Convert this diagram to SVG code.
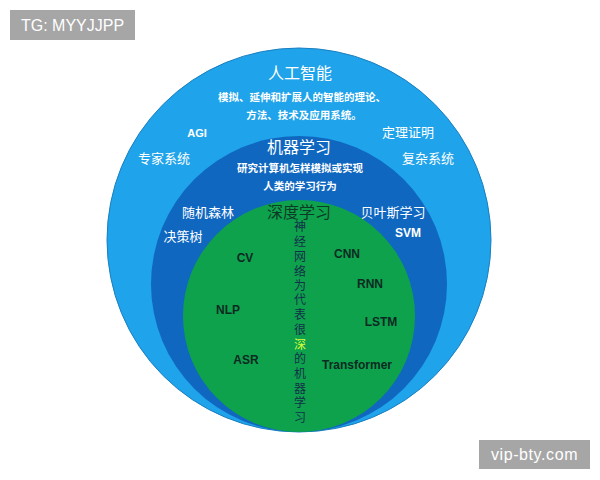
<svg xmlns="http://www.w3.org/2000/svg" width="600" height="480" viewBox="0 0 600 480">
<style>
text{font-family:"Liberation Sans","Noto Sans CJK SC",sans-serif;text-anchor:middle}
.w{fill:#ffffff}
.t{fill:#ffffff;font-size:13px}
.s{fill:#ffffff;font-size:10.5px;font-weight:bold}
.h{font-size:16px}
.g{fill:#0c2a22;font-weight:bold;font-size:12px}
.v{fill:#12304a;font-size:12px}
.wm{fill:#ffffff;font-size:16px}
</style>
<rect width="600" height="480" fill="#ffffff"/>
<g id="ai">
<circle cx="299" cy="240" r="192" fill="#1fa3ea" stroke="#1a7fc0" stroke-width="1"/>
<text class="w h" x="300" y="79">人工智能</text>
<text class="s" x="302" y="101">模拟、延伸和扩展人的智能的理论、</text>
<text class="s" x="304" y="119">方法、技术及应用系统。</text>
<text class="w" x="197" y="137" font-size="11" font-weight="bold">AGI</text>
<text class="t" x="408" y="137">定理证明</text>
<text class="t" x="164" y="163">专家系统</text>
<text class="t" x="428" y="163">复杂系统</text>
</g>
<g id="ml">
<circle cx="299" cy="284" r="148" fill="#0f67c0"/>
<text class="w h" x="299" y="153">机器学习</text>
<text class="s" x="300" y="172">研究计算机怎样模拟或实现</text>
<text class="s" x="300" y="190">人类的学习行为</text>
<text class="t" x="208" y="217">随机森林</text>
<text class="t" x="393" y="217">贝叶斯学习</text>
<text class="t" x="183" y="241">决策树</text>
<text class="w" x="408" y="237" font-size="12" font-weight="bold">SVM</text>
</g>
<g id="dl">
<circle cx="299" cy="316" r="116" fill="#0fa24c"/>
<text class="h" x="299" y="218" fill="#0c3a26">深度学习</text>
<text class="g" x="245" y="262">CV</text>
<text class="g" x="228" y="314">NLP</text>
<text class="g" x="246" y="364">ASR</text>
<text class="g" x="347" y="258">CNN</text>
<text class="g" x="370" y="288">RNN</text>
<text class="g" x="381" y="326">LSTM</text>
<text class="g" x="357" y="369">Transformer</text>
<g class="v">
<text x="300" y="231">神</text>
<text x="300" y="246">经</text>
<text x="300" y="261">网</text>
<text x="300" y="276">络</text>
<text x="300" y="290">为</text>
<text x="300" y="304">代</text>
<text x="300" y="319">表</text>
<text x="300" y="334">很</text>
<text x="300" y="349" fill="#d8ff3c">深</text>
<text x="300" y="363">的</text>
<text x="300" y="378">机</text>
<text x="300" y="393">器</text>
<text x="300" y="407">学</text>
<text x="300" y="422">习</text>
</g>
</g>
<g id="connectors"></g>
<g id="watermark1">
<rect x="10" y="10" width="125" height="30" fill="#a6a6a6"/>
<text class="wm" x="72.5" y="31">TG: MYYJJPP</text>
</g>
<g id="watermark2">
<rect x="479" y="440" width="111" height="29" fill="#a6a6a6"/>
<text class="wm" x="534.5" y="460" letter-spacing="0.6">vip-bty.com</text>
</g>
</svg>
